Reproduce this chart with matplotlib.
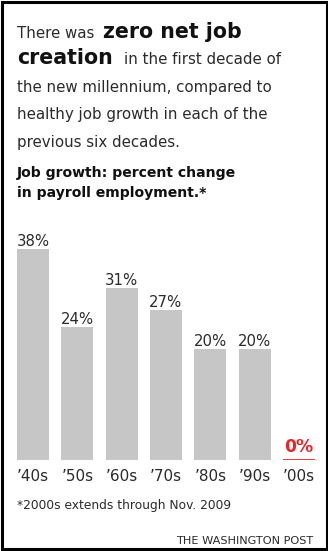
import matplotlib
matplotlib.use("Agg")
import matplotlib.pyplot as plt
from matplotlib.patches import Rectangle

# data
decades = ["’40s", "’50s", "’60s", "’70s", "’80s", "’90s", "’00s"]
growth = [38, 24, 31, 27, 20, 20, 0]
value_labels = ["38%", "24%", "31%", "27%", "20%", "20%", "0%"]

W, H = 328, 551
GRAY = "#c6c6c6"
RED = "#e8262a"
INK = "#1e1e1e"


def fx(x):
    return x / W


def fy(y):
    # y measured in pixels from the top
    return 1 - y / H


fig = plt.figure(figsize=(W / 100, H / 100), dpi=100)
fig.patch.set_facecolor("white")

# frame around the graphic
fig.patches.append(Rectangle((fx(1.5), fy(548.5)), fx(325) - fx(0), fy(1.5) - fy(548.5),
                             transform=fig.transFigure, fill=False,
                             edgecolor="black", linewidth=2.2))

# headline
body = dict(fontsize=10.8, color="#2a2a2a", va="baseline", ha="left")
big = dict(fontsize=14.8, color="#111111", weight="bold", va="baseline", ha="left")
fig.text(fx(17), fy(38), "There was", **body)
fig.text(fx(103), fy(38), "zero net job", **big)
fig.text(fx(17), fy(64), "creation", **big)
fig.text(fx(124), fy(64), "in the first decade of", **body)
fig.text(fx(17), fy(92), "the new millennium, compared to", **body)
fig.text(fx(17), fy(119), "healthy job growth in each of the", **body)
fig.text(fx(17), fy(147), "previous six decades.", **body)

sub = dict(fontsize=10.1, color="#111111", weight="bold", va="baseline", ha="left")
fig.text(fx(17), fy(176.5), "Job growth: percent change", **sub)
fig.text(fx(17), fy(196.5), "in payroll employment.*", **sub)

# bars
ax = fig.add_axes([fx(10.8), (H - 460) / H, (321.2 - 10.8) / W, 222 / H])
ax.set_xlim(-0.5, len(decades) - 0.5)
ax.set_ylim(0, 40)
ax.axis("off")

width = 32 / 44.33
xs = list(range(len(decades)))
ax.bar(xs, growth, width=width, color=GRAY, linewidth=0)

for x, v, lab, dec in zip(xs, growth, value_labels, decades):
    if v == 0:
        ax.hlines(0, x - width / 2, x + width / 2, color=RED, linewidth=1.3)
        ax.annotate(lab, (x, v), xytext=(0, 5.8), textcoords="offset points",
                    ha="center", va="baseline", fontsize=12.3, weight="bold",
                    color=RED, annotation_clip=False)
    else:
        ax.annotate(lab, (x, v), xytext=(0, 2.2), textcoords="offset points",
                    ha="center", va="baseline", fontsize=10.7, color="#2a2a2a",
                    annotation_clip=False)
    ax.annotate(dec, (x, 0), xytext=(0, -15), textcoords="offset points",
                ha="center", va="baseline", fontsize=11, color="#2a2a2a",
                annotation_clip=False)

fig.text(fx(17), fy(509), "*2000s extends through Nov. 2009", fontsize=8.8,
         color="#2a2a2a", va="baseline", ha="left")
fig.text(fx(313), fy(544), "THE WASHINGTON POST", fontsize=8.1,
         color="#2a2a2a", va="baseline", ha="right")

fig.savefig("out.png", dpi=100, facecolor="white")
